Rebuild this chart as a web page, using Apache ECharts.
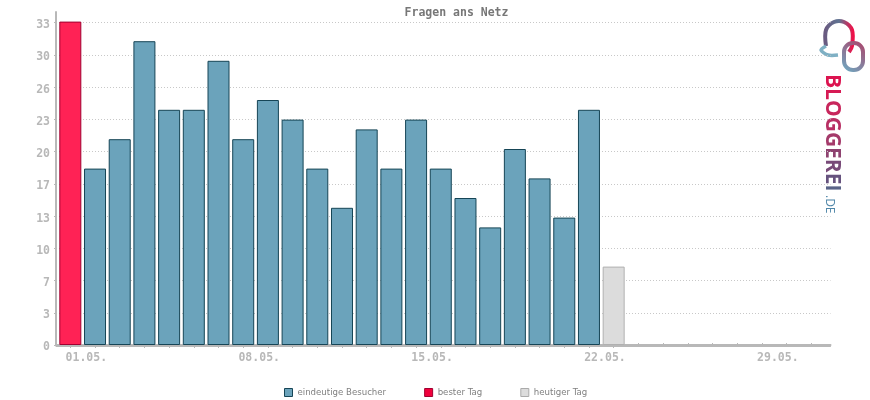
<!doctype html>
<html>
<head>
<meta charset="utf-8">
<script src="https://cdn.jsdelivr.net/npm/echarts@6/dist/echarts.min.js"></script>
<style>
html, body { margin: 0; padding: 0; background: #fff; }
#chart { width: 870px; height: 400px; }
</style>
</head>
<body>
<div id="chart"></div>
<script>
var days = ['01.05.','02.05.','03.05.','04.05.','05.05.','06.05.','07.05.','08.05.','09.05.','10.05.','11.05.','12.05.','13.05.','14.05.','15.05.','16.05.','17.05.','18.05.','19.05.','20.05.','21.05.','22.05.','23.05.','24.05.','25.05.','26.05.','27.05.','28.05.','29.05.','30.05.','31.05.'];
var besucher = [null,18,21,31,24,24,29,21,25,23,18,14,22,18,23,18,15,12,20,17,13,24,null,null,null,null,null,null,null,null,null];
var besterTag = [33,null,null,null,null,null,null,null,null,null,null,null,null,null,null,null,null,null,null,null,null,null,null,null,null,null,null,null,null,null,null];
var heutigerTag = [null,null,null,null,null,null,null,null,null,null,null,null,null,null,null,null,null,null,null,null,null,null,8,null,null,null,null,null,null,null,null];
var yTicks = [0,3.29,6.58,9.87,13.16,16.45,19.74,23.03,26.32,29.61,32.9];
var yLabels = ['0','3','7','10','13','17','20','23','26','30','33'];
var ticksBelow = [1,2,3,4,5,6,7,8,9,10,11,12,13,14,15,16,17,18,19,20,21,22,23];
var ticksAbove = [24,25,26,27,28,29,30,31];
var labelDays = [1,8,15,22,29];

var FONT = '"DejaVu Sans Mono", monospace';
var AXIS = '#b8b8b8';
var X_MIN = 0.42;
var X_MAX = 31.78;

function toPoints(arr) {
	return arr.map(function (v, i) { return [i + 1, v]; });
}

function barSeries(name, values, fill, border) {
	return {
		name: name,
		type: 'bar',
		data: toPoints(values),
		barWidth: 22,
		barGap: '-100%',
		itemStyle: { color: fill, borderColor: border, borderWidth: 1 }
	};
}

var chart = echarts.init(document.getElementById('chart'), null, { renderer: 'canvas' });

// text takes no gradient fill, so the logo word is coloured letter by letter
var logoLetters = 'BLOGGEREI'.split('');
var logoColors = ['#dc1450', '#d61a54', '#c8265c', '#b83064', '#a43a6a', '#8e4270', '#784a78', '#66527e', '#5a6488'];
var logoRich = {};
logoColors.forEach(function (c, i) {
	logoRich['l' + i] = { fill: c, color: c, fontFamily: '"Open Sans", sans-serif', fontSize: 21, fontWeight: 'bold' };
});
var logoText = logoLetters.map(function (l, i) { return '{l' + i + '|' + l + '}'; }).join('');

var bubbleGradient = new echarts.graphic.LinearGradient(825, 0, 853, 0, [
	{ offset: 0, color: '#6a5a80' },
	{ offset: 0.5, color: '#5f7492' },
	{ offset: 1, color: '#f01048' }
], true);
var loopGradient = new echarts.graphic.LinearGradient(844, 70, 863, 43, [
	{ offset: 0, color: '#6fa6bf' },
	{ offset: 1, color: '#a8486e' }
], true);

chart.setOption({
	animation: false,
	title: {
		text: 'Fragen ans Netz',
		left: 456.5,
		top: 7,
		padding: 0,
		textAlign: 'center',
		textStyle: { fontFamily: FONT, fontSize: 11.5, fontWeight: 'bold', color: '#777' }
	},
	legend: {
		left: 284,
		top: 388,
		padding: 0,
		itemWidth: 8,
		itemHeight: 8,
		itemGap: 38,
		textStyle: { fontFamily: '"DejaVu Sans", sans-serif', fontSize: 8.6, color: '#808080' },
		data: [
			{ name: 'eindeutige Besucher', icon: 'rect', itemStyle: { color: '#6ba3bb', borderColor: '#164556', borderWidth: 1 } },
			{ name: 'bester Tag', icon: 'rect', itemStyle: { color: '#f0003c', borderColor: '#a00030', borderWidth: 1 } },
			{ name: 'heutiger Tag', icon: 'rect', itemStyle: { color: '#dcdcdc', borderColor: '#aaa', borderWidth: 1 } }
		]
	},
	grid: { left: 56, right: 39.5, top: 12, bottom: 55 },
	xAxis: [
		{
			type: 'value',
			min: X_MIN,
			max: X_MAX,
			splitLine: { show: false },
			axisLine: { show: true, onZero: false, lineStyle: { color: AXIS, width: 2 } },
			axisTick: { show: true, length: 3, customValues: ticksBelow, lineStyle: { color: AXIS, width: 1 } },
			axisLabel: {
				customValues: labelDays,
				margin: 7,
				padding: [0, 0, 0, 32],
				fontFamily: FONT,
				fontSize: 11.5,
				fontWeight: 'bold',
				color: '#b8b8b8',
				formatter: function (v) { return days[v - 1]; }
			}
		},
		{
			// thin grey line over the bar feet, plus the upward ticks of the empty days
			type: 'value',
			position: 'bottom',
			min: X_MIN,
			max: X_MAX,
			offset: 1,
			z: 3,
			splitLine: { show: false },
			axisLine: { show: true, onZero: false, lineStyle: { color: AXIS, width: 1 } },
			axisTick: { show: true, inside: true, length: 3, customValues: ticksAbove, lineStyle: { color: AXIS, width: 1 } },
			axisLabel: { show: false }
		}
	],
	yAxis: {
		type: 'value',
		min: 0,
		max: 33.98,
		axisLine: { show: true, lineStyle: { color: AXIS, width: 2 } },
		axisTick: { show: true, length: 2, customValues: yTicks, lineStyle: { color: AXIS, width: 1 } },
		splitLine: { show: true, lineStyle: { color: '#c8c8c8', type: [1, 2], width: 1 } },
		axisLabel: {
			customValues: yTicks,
			margin: 6,
			verticalAlign: 'top',
			lineHeight: 5,
			fontFamily: FONT,
			fontSize: 11.5,
			fontWeight: 'bold',
			color: '#b8b8b8',
			formatter: function (v) { return yLabels[yTicks.indexOf(v)]; }
		}
	},
	graphic: [
		{
			type: 'text',
			x: 831.5,
			y: 74,
			rotation: -Math.PI / 2,
			silent: true,
			style: { text: logoText, rich: logoRich, align: 'left', verticalAlign: 'middle' }
		},
		{
			type: 'text',
			x: 829,
			y: 195,
			rotation: -Math.PI / 2,
			silent: true,
			style: { text: '.DE', fontFamily: '"Open Sans", sans-serif', fontSize: 12, fill: '#4f86a8', align: 'left', verticalAlign: 'middle' }
		},
		{
			type: 'polyline',
			silent: true,
			shape: { smooth: 0.35, points: [[826, 46], [826, 30], [834, 22], [844, 22], [852, 30], [852, 46], [849, 52]] },
			style: { fill: 'none', stroke: bubbleGradient, lineWidth: 4 }
		},
		{
			type: 'polyline',
			silent: true,
			shape: { smooth: 0.3, points: [[826, 46], [821, 50], [828, 55], [838, 55]] },
			style: { fill: 'none', stroke: '#7fb0c4', lineWidth: 3.5 }
		},
		{
			type: 'rect',
			silent: true,
			shape: { x: 844, y: 43, width: 19, height: 27, r: 9 },
			style: { fill: 'none', stroke: loopGradient, lineWidth: 4 }
		}
	],
	series: [
		barSeries('eindeutige Besucher', besucher, '#6ba3bb', '#164556'),
		barSeries('bester Tag', besterTag, '#ff2255', '#a00030'),
		barSeries('heutiger Tag', heutigerTag, '#dcdcdc', '#b0b0b0')
	]
});
</script>
</body>
</html>
